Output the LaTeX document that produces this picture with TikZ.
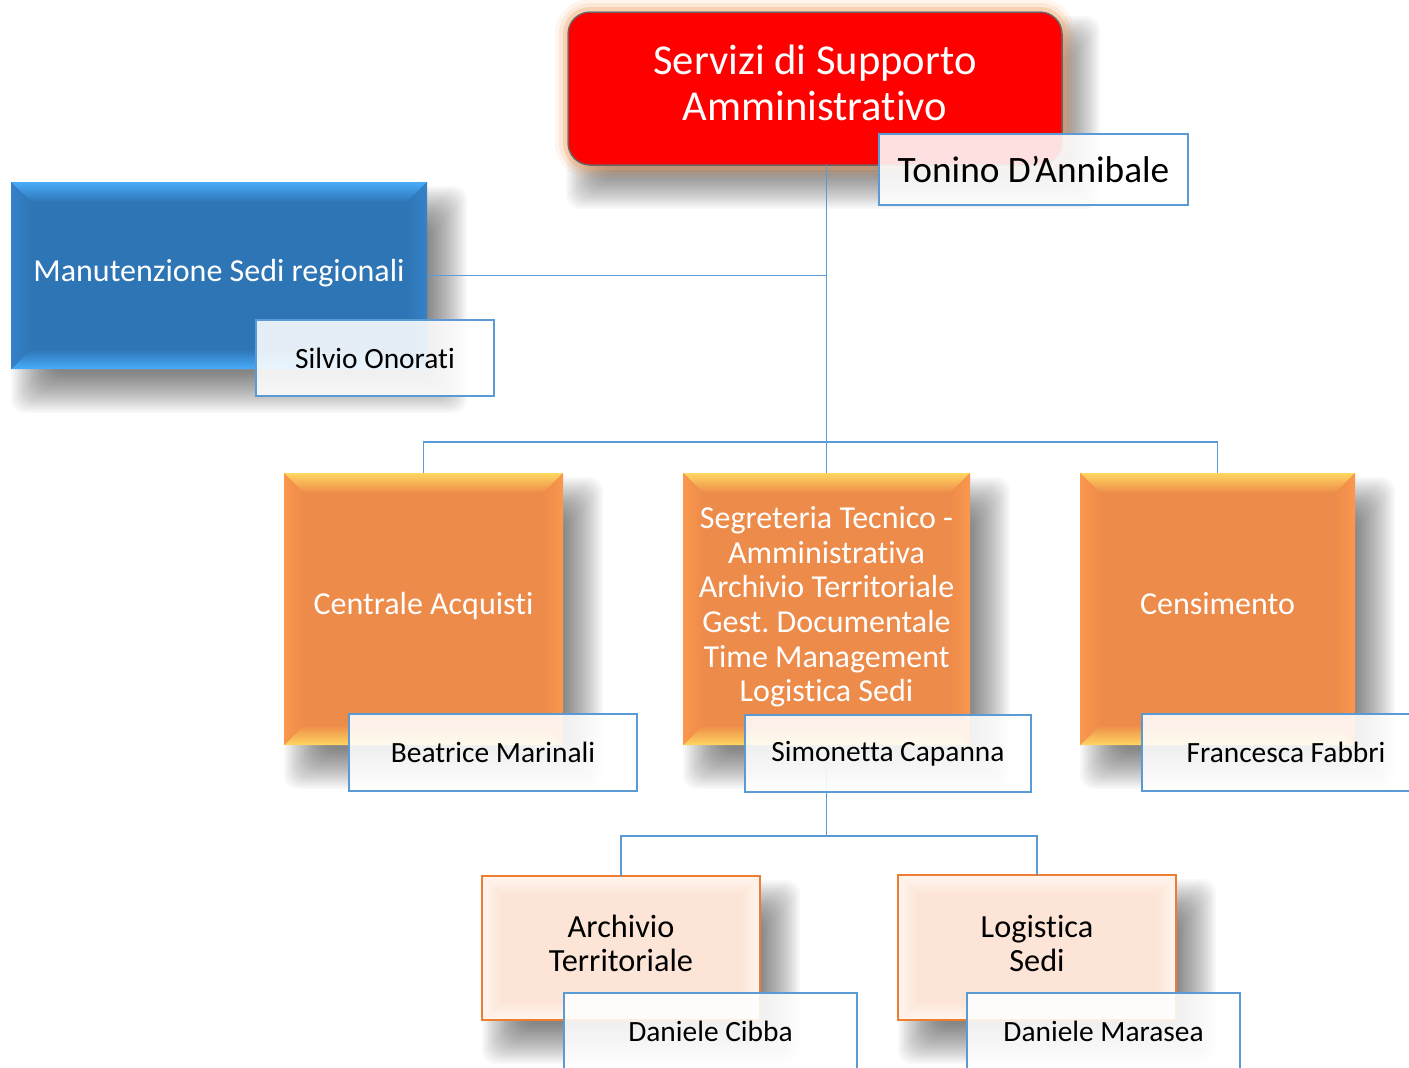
\documentclass[tikz,border=0pt]{standalone}
\usepackage{fontspec}
\setmainfont{Carlito}[Ligatures={NoCommon}]
\usetikzlibrary{calc}
\frenchspacing
\pgfdeclarelayer{bgzero}
\pgfdeclarelayer{shadowlayer}
\pgfsetlayers{bgzero,shadowlayer,main}
\definecolor{conn}{RGB}{91,155,213}
\definecolor{redbox}{RGB}{255,0,0}
\definecolor{redline}{RGB}{110,100,100}
\definecolor{glow}{RGB}{247,165,100}
\definecolor{bluebox}{RGB}{46,117,182}
\definecolor{bluelight}{RGB}{72,172,250}
\definecolor{blueside}{RGB}{54,130,200}
\definecolor{orbox}{RGB}{237,139,74}
\definecolor{orlight}{RGB}{255,214,96}
\definecolor{orside}{RGB}{250,152,78}
\definecolor{peach}{RGB}{252,228,214}
\definecolor{peachlight}{RGB}{255,246,240}
\definecolor{peachedge}{RGB}{237,125,49}
\newcommand\bevelfacets[5]{%
  \path[top color=#3, bottom color=#5] (#1.north west) -- (#1.north east) -- ($(#1.north east)+(-#2,-#2)$) -- ($(#1.north west)+(#2,-#2)$) -- cycle;
  \path[top color=#5, bottom color=#3] (#1.south west) -- (#1.south east) -- ($(#1.south east)+(-#2,#2)$) -- ($(#1.south west)+(#2,#2)$) -- cycle;
  \path[left color=#4, right color=#5] (#1.north west) -- ($(#1.north west)+(#2,-#2)$) -- ($(#1.south west)+(#2,#2)$) -- (#1.south west) -- cycle;
  \path[left color=#5, right color=#4] (#1.north east) -- ($(#1.north east)+(-#2,-#2)$) -- ($(#1.south east)+(-#2,#2)$) -- (#1.south east) -- cycle;
}
% soft shadow: node, xshift, yshift
\newcommand\softshade[3]{%
  \begin{pgfonlayer}{shadowlayer}
  \foreach \d in {-20,-18,...,20}{
    \fill[black, opacity=0.028, rounded corners=14pt]
      ($(#1.south west)+(#2-\d,#3-\d)$) rectangle ($(#1.north east)+(#2+\d,#3+\d)$);
  }
  \end{pgfonlayer}
}
\tikzset{
  x=1pt, y=1pt,
  boxbase/.style={inner sep=0pt, outer sep=0pt},
  redstyle/.style={boxbase, fill=redbox, draw=redline, line width=1.5pt, rounded corners=22pt},
  bluestyle/.style={boxbase, fill=bluebox},
  orstyle/.style={boxbase, fill=orbox},
  peachstyle/.style={boxbase, fill=peach},
  namestyle/.style={inner sep=0pt, outer sep=0pt, draw=conn, line width=2pt, fill=white, fill opacity=0.88, text opacity=1, text=black, font=\fontsize{29.4}{34}\selectfont},
  wtext/.style={text=white, align=center, inner sep=0pt},
  btext/.style={text=black, align=center, inner sep=0pt},
  connector/.style={draw=conn, line width=1.5pt},
}
\begin{document}
\begin{tikzpicture}
\useasboundingbox (0,0) rectangle (1409,-1068);
\begin{pgfonlayer}{bgzero}
\fill[white] (0,0) rectangle (1409,-1068);
\end{pgfonlayer}

% top red box
\node[redstyle, minimum width=494, minimum height=153] (top) at (815,-88.5) {};
\softshade{top}{18}{-24}
\foreach \o/\op in {3/0.5, 7/0.25, 11/0.1}{
  \draw[glow, line width=4pt, opacity=\op, rounded corners=22pt+\o pt]
    ($(top.north west)+(-\o,\o)$) rectangle ($(top.south east)+(\o,-\o)$);
}
\node[wtext, font=\fontsize{42.6}{46}\selectfont] (topt) at (815,-83) {Servizi di Supporto\\Amministrativo};

% blue box
\node[bluestyle, minimum width=416, minimum height=187] (blue) at (219,-275.5) {};
\softshade{blue}{20}{-24}
\bevelfacets{blue}{20}{bluelight}{blueside}{bluebox}
\node[wtext, font=\fontsize{32}{36}\selectfont] (bluet) at (219,-273) {Manutenzione Sedi regionali};

% orange boxes
\node[orstyle, minimum width=279, minimum height=272] (ca) at (423.5,-609) {};
\softshade{ca}{20}{-24}
\bevelfacets{ca}{20}{orlight}{orside}{orbox}
\node[wtext, font=\fontsize{32}{36}\selectfont] (cat) at (423.5,-606) {Centrale Acquisti};

\node[orstyle, minimum width=287, minimum height=272] (mid) at (826.5,-609) {};
\softshade{mid}{20}{-24}
\bevelfacets{mid}{20}{orlight}{orside}{orbox}
\node[wtext, font=\fontsize{32}{34.6}\selectfont] (midt) at (826.5,-607) {Segreteria Tecnico -\\Amministrativa\\Archivio Territoriale\\Gest. Documentale\\Time Management\\Logistica Sedi};

\node[orstyle, minimum width=275, minimum height=272] (cen) at (1217.5,-609) {};
\softshade{cen}{20}{-24}
\bevelfacets{cen}{20}{orlight}{orside}{orbox}
\node[wtext, font=\fontsize{32}{36}\selectfont] (cent) at (1217.5,-604) {Censimento};

% peach boxes
\node[peachstyle, minimum width=278, minimum height=144] (arch) at (621,-948) {};
\softshade{arch}{20}{-24}
\bevelfacets{arch}{20}{peachlight}{peachlight}{peach}
\draw[peachedge, line width=2.5pt] (arch.north west) rectangle (arch.south east);
\node[btext, font=\fontsize{32.3}{34}\selectfont] (archt) at (621,-943) {Archivio\\Territoriale};

\node[peachstyle, minimum width=278, minimum height=145] (log) at (1037,-947.5) {};
\softshade{log}{20}{-24}
\bevelfacets{log}{20}{peachlight}{peachlight}{peach}
\draw[peachedge, line width=2.5pt] (log.north west) rectangle (log.south east);
\node[btext, font=\fontsize{32.3}{34}\selectfont] (logt) at (1037,-943) {Logistica\\Sedi};

% connectors
\draw[connector] (top.south -| mid.north) -- (mid.north);
\draw[connector] (blue.east) -- (blue.east -| mid.north);
\coordinate (j1) at ($(mid.north)+(0,-442+473)$);
\draw[connector] (ca.north) |- (j1) -| (cen.north);
\coordinate (j2) at ($(mid.south)+(0,-836+745)$);
\draw[connector] (mid.south) -- (j2);
\draw[connector] (arch.north) |- (j2) -| (log.north);

% name boxes
\node[namestyle, minimum width=309, minimum height=71, font=\fontsize{37.3}{42}\selectfont] (tonino) at (1033.5,-169.5) {Tonino D’Annibale};
\node[namestyle, minimum width=238, minimum height=76] (silvio) at (375,-358) {Silvio Onorati};
\node[namestyle, minimum width=288, minimum height=77] (beatrice) at (493,-752.5) {Beatrice Marinali};
\node[namestyle, minimum width=286, minimum height=77] (simonetta) at (888,-753.5) {Simonetta Capanna};
\node[namestyle, minimum width=288, minimum height=77] (francesca) at (1286,-752.5) {Francesca Fabbri};
\node[namestyle, minimum width=293, minimum height=77] (cibba) at (710.5,-1031.5) {Daniele Cibba};
\node[namestyle, minimum width=273, minimum height=77] (marasea) at (1103.5,-1031.5) {Daniele Marasea};
\end{tikzpicture}
\end{document}
